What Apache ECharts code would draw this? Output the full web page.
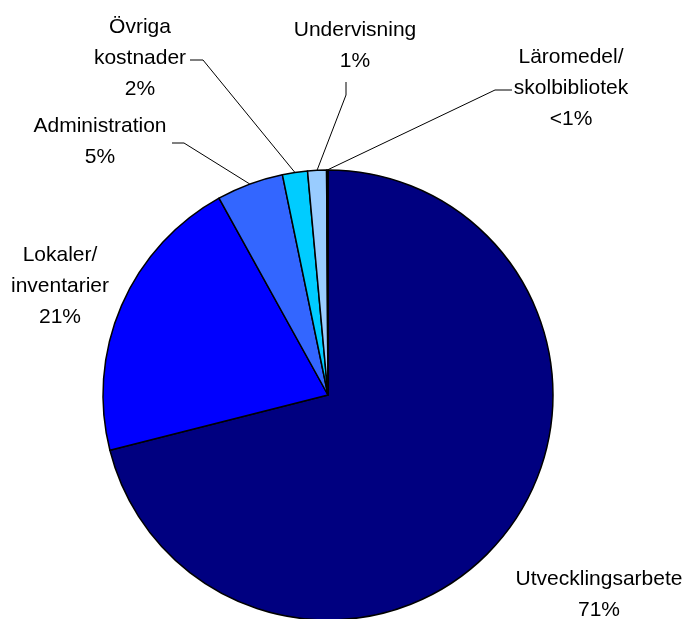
<!DOCTYPE html>
<html>
<head>
<meta charset="utf-8">
<script src="https://cdn.jsdelivr.net/npm/echarts@6/dist/echarts.min.js"></script>
<style>
  html, body { margin: 0; padding: 0; background: #fff; }
  #chart { width: 688px; height: 619px; }
</style>
</head>
<body>
<div id="chart"></div>
<script>
  // data (share in percent, clockwise from 12 o'clock)
  const categories = ['Utvecklingsarbete', 'Lokaler/\ninventarier', 'Administration', 'Övriga\nkostnader', 'Undervisning', 'Läromedel/\nskolbibliotek']
  const values = [71.05, 20.9, 4.8, 1.8, 1.35, 0.1]
  const percentLabels = ['71%', '21%', '5%', '2%', '1%', '<1%']

  const colors = ['#000080', '#0000ff', '#3366ff', '#00ccff', '#99ccff', '#ccffff']

  // where the label text sits, and the bends of the leader lines
  const labelPos = [[599, 595], [60, 286], [100, 142], [140, 58], [355, 46], [571, 88]]
  const leaderBends = [null, null, [[184, 143], [172, 143]], [[203, 60], [190, 60]], [[346, 95], [346, 82]], [[495, 90], [512, 90]]]

  const chart = echarts.init(document.getElementById('chart'))

  const seriesData = categories.map((name, i) => ({
    name: name,
    value: values[i],
    itemStyle: { color: colors[i] },
    labelLine: { show: leaderBends[i] != null }
  }))

  const option = {
    animation: false,
    backgroundColor: '#fff',
    series: [{
      type: 'pie',
      center: [328, 395],
      radius: 225,
      startAngle: 90,
      clockwise: true,
      avoidLabelOverlap: false,
      itemStyle: { borderColor: '#000', borderWidth: 1.5 },
      emphasis: { disabled: true },
      label: {
        show: true,
        position: 'outside',
        formatter: (p) => p.name + '\n' + percentLabels[p.dataIndex],
        fontFamily: 'Liberation Sans, Arial, sans-serif',
        fontSize: 21,
        lineHeight: 31,
        color: '#000',
        align: 'center'
      },
      labelLine: {
        show: true,
        lineStyle: { color: '#000', width: 1 }
      },
      labelLayout: function (params) {
        const i = params.dataIndex
        const out = {
          x: labelPos[i][0],
          y: labelPos[i][1],
          align: 'center',
          verticalAlign: 'middle'
        }
        if (leaderBends[i] && params.labelLinePoints) {
          out.labelLinePoints = [params.labelLinePoints[0]].concat(leaderBends[i])
        }
        return out
      },
      data: seriesData
    }]
  }

  chart.setOption(option)
</script>
</body>
</html>
